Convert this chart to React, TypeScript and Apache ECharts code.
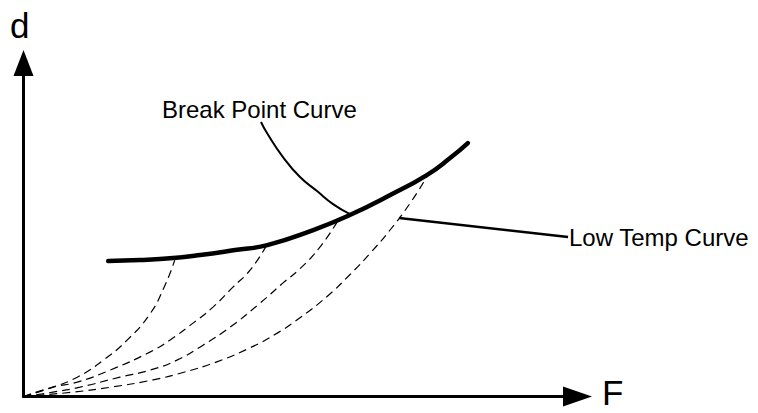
import React, { useEffect, useRef } from "react";
import * as echarts from "echarts";

// Schematic axes: F (horizontal) and d (vertical), both 0..100
const axisMin = 0;
const axisMax = 100;
const xAxisName = "F";
const yAxisName = "d";

// Break point curve (thick)
const breakPointCurve: number[][] = [
  [15.3, 40.6], [21, 40.9], [27, 41.5], [31.9, 42.4], [38.2, 43.9], [44, 45.4],
  [52.3, 49.9], [58.9, 54.4], [66.2, 60.4], [72.8, 66.4], [77, 71.5], [80.2, 76],
];

// Dashed low temperature curves, from the origin up to the break point curve
const lowTemp1: number[][] = [
  [0, 0], [4.8, 2.5], [9.7, 5.8], [14.4, 10.9], [18.7, 16.9], [22.8, 24.7], [25.4, 32.8], [27.3, 40.9],
];
const lowTemp2: number[][] = [
  [0, 0], [5.3, 2.8], [9.7, 4.3], [15.6, 7.9], [22.8, 13.3], [26.4, 16.9], [30.6, 22],
  [34.2, 26.8], [37.8, 32.8], [40.9, 37.9], [43.8, 45.1],
];
const lowTemp3: number[][] = [
  [0, 0], [5.3, 1.3], [10.2, 2.8], [17.4, 5.8], [22.8, 7.9], [27.7, 10.9], [32.4, 15.4],
  [37.3, 20.8], [42.7, 28], [46.8, 34], [49.9, 38.3], [53.5, 44.8], [56.6, 52.3],
];
const lowTemp4: number[][] = [
  [0, 0], [8.9, 1.3], [16.2, 2.9], [23.4, 5], [28.8, 7.2], [34.9, 10.4], [40.9, 14.6],
  [45.8, 19], [49.9, 23.6], [54.8, 30], [58.9, 36.5], [62.6, 43], [66.2, 50], [69.8, 58], [73, 66.4],
];

// Annotation leader lines
const breakPointLeader: number[][] = [
  [42.87, 82.3], [43.95, 79.0], [46.84, 71.8], [49.91, 65.8], [52.98, 61.6], [55.87, 57.7], [58.94, 54.7],
];
const lowTempLeader: number[][] = [
  [67.8, 53.5], [98.3, 47.8],
];

const breakPointLabel = "Break Point Curve";
const lowTempLabel = "Low Temp Curve";

export default function App() {
  const ref = useRef<HTMLDivElement>(null);

  useEffect(() => {
    if (!ref.current) return;
    const chart = echarts.init(ref.current, undefined, { renderer: "svg" });
    const font = "'Liberation Sans', Arial, Helvetica, sans-serif";
    const dashed = (data: number[][]) => ({
      type: "line",
      data,
      smooth: true,
      symbol: "none",
      silent: true,
      lineStyle: { color: "#000", width: 1.2, type: [8, 5] },
    });
    chart.setOption({
      animation: false,
      backgroundColor: "#fff",
      grid: { left: 23.5, right: 180.5, top: 63, bottom: 16.5, containLabel: false },
      xAxis: {
        type: "value",
        min: axisMin,
        max: axisMax,
        axisLine: {
          show: true,
          symbol: ["none", "triangle"],
          symbolSize: [20, 29],
          lineStyle: { color: "#000", width: 3 },
        },
        axisTick: { show: false },
        axisLabel: { show: false },
        splitLine: { show: false },
      },
      yAxis: {
        type: "value",
        min: axisMin,
        max: axisMax,
        axisLine: {
          show: true,
          symbol: ["none", "triangle"],
          symbolSize: [20, 26],
          lineStyle: { color: "#000", width: 3 },
        },
        axisTick: { show: false },
        axisLabel: { show: false },
        splitLine: { show: false },
      },
      graphic: [
        {
          type: "text",
          left: 10,
          top: 8,
          style: { text: yAxisName, font: `35px ${font}`, fill: "#000" },
        },
        {
          type: "text",
          left: 602,
          top: 375,
          style: { text: xAxisName, font: `35px ${font}`, fill: "#000" },
        },
        {
          type: "text",
          left: 162,
          top: 97,
          style: { text: breakPointLabel, font: `24px ${font}`, fill: "#000" },
        },
        {
          type: "text",
          left: 569,
          top: 225,
          style: { text: lowTempLabel, font: `24px ${font}`, fill: "#000" },
        },
      ],
      series: [
        dashed(lowTemp1),
        dashed(lowTemp2),
        dashed(lowTemp3),
        dashed(lowTemp4),
        {
          type: "line",
          data: breakPointLeader,
          smooth: true,
          symbol: "none",
          silent: true,
          lineStyle: { color: "#000", width: 2 },
        },
        {
          type: "line",
          data: lowTempLeader,
          symbol: "none",
          silent: true,
          lineStyle: { color: "#000", width: 2.5 },
        },
        {
          type: "line",
          data: breakPointCurve,
          smooth: true,
          symbol: "none",
          silent: true,
          lineStyle: { color: "#000", width: 4.5, cap: "round" },
        },
      ],
    });
    return () => chart.dispose();
  }, []);

  return <div ref={ref} style={{ width: 758, height: 413, position: "fixed", left: 0, top: 0 }} />;
}
